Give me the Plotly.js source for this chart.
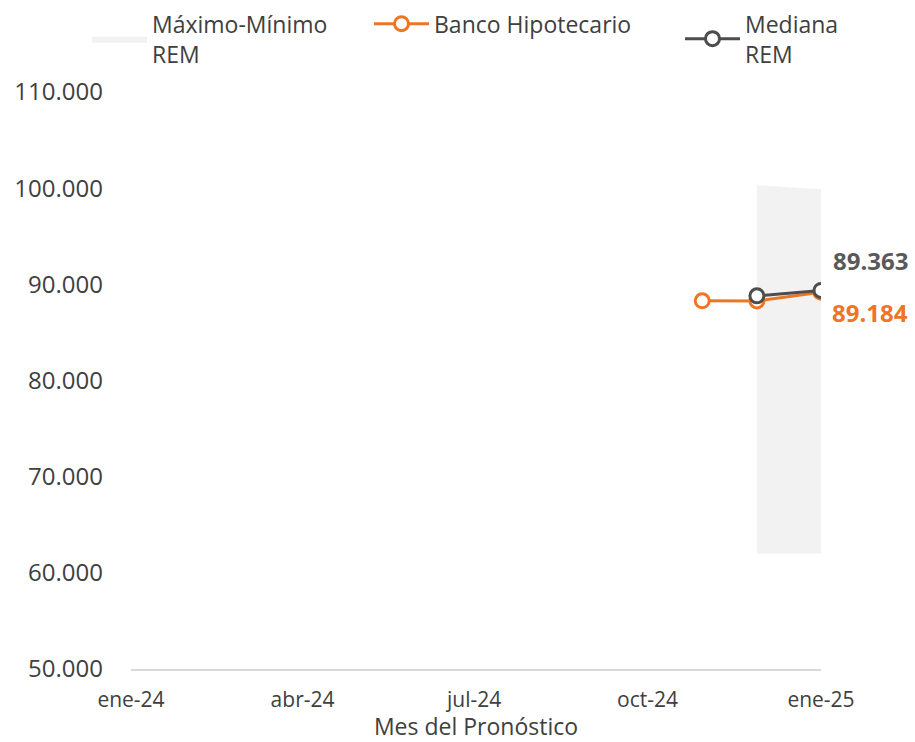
<!DOCTYPE html>
<html>
<head>
<meta charset="utf-8">
<script src="https://cdn.plot.ly/plotly-3.0.1.min.js"></script>
<style>html,body{margin:0;padding:0;background:#fff;}#chart{width:915px;height:742px;}</style>
</head>
<body>
<div id="chart"></div>
<script>
// Band (Máximo-Mínimo REM)
const bandDates = ["2024-11-28", "2025-01-01"];
const bandMax = [100300, 99900];
const bandMin = [62000, 62000];
// Banco Hipotecario
const bancoDates = ["2024-10-30", "2024-11-28", "2025-01-01"];
const bancoValues = [88290, 88270, 89184];
// Mediana REM
const medianaDates = ["2024-11-28", "2025-01-01"];
const medianaValues = [88800, 89363];
// Axis ticks
const xTickVals = ["2024-01-01", "2024-04-01", "2024-07-01", "2024-10-01", "2025-01-01"];
const xTickText = ["ene-24", "abr-24", "jul-24", "oct-24", "ene-25"];
const yTickVals = [50000, 60000, 70000, 80000, 90000, 100000, 110000];

const ORANGE = "#EE7623";
const DARK = "#4D4D4D";
const TXT = "#404040";
const FONT = "Open Sans, Liberation Sans, sans-serif";

const traces = [
  {x: bandDates, y: bandMin, type: "scatter", mode: "lines", fill: "tozeroy",
   fillcolor: "rgba(255,255,255,1)", line: {width: 0, color: "rgba(255,255,255,0)"},
   showlegend: false, hoverinfo: "skip"},
  {x: bandDates, y: bandMax, type: "scatter", mode: "lines", fill: "tonexty",
   fillcolor: "#F2F2F2", line: {width: 0, color: "rgba(0,0,0,0)"},
   name: "Máximo-Mínimo<br>REM", legend: "legend"},
  {x: bancoDates, y: bancoValues, type: "scatter", mode: "lines+markers",
   line: {color: ORANGE, width: 3},
   marker: {symbol: "circle", size: 14, color: "#ffffff", line: {color: ORANGE, width: 3}},
   name: "Banco Hipotecario", legend: "legend2"},
  {x: medianaDates, y: medianaValues, type: "scatter", mode: "lines+markers",
   line: {color: DARK, width: 3},
   marker: {symbol: "circle", size: 14, color: "#ffffff", line: {color: DARK, width: 3}},
   name: "Mediana<br>REM", legend: "legend3"}
];

const fmt = v => v.toLocaleString("de-DE");
const legendBase = {orientation: "h", xref: "container", yref: "container", yanchor: "top",
  xanchor: "left", y: 0.997, font: {family: FONT, size: 23, color: TXT},
  bgcolor: "rgba(0,0,0,0)", itemwidth: 55, tracegroupgap: 0};

const layout = {
  width: 915, height: 742,
  margin: {l: 131, r: 94, t: 92, b: 73},
  paper_bgcolor: "#ffffff", plot_bgcolor: "#ffffff",
  separators: ",.",
  font: {family: FONT, color: TXT},
  showlegend: true,
  legend: Object.assign({}, legendBase, {x: 87 / 915}),
  legend2: Object.assign({}, legendBase, {x: 369 / 915}),
  legend3: Object.assign({}, legendBase, {x: 680 / 915}),
  xaxis: {
    type: "date", range: ["2024-01-01", "2025-01-01"],
    tickvals: xTickVals, ticktext: xTickText,
    showgrid: false, zeroline: false,
    showline: true, linecolor: "#D9D9D9", linewidth: 1.5,
    ticks: "", ticklabelstandoff: 11,
    tickfont: {family: FONT, size: 21, color: TXT},
    title: {text: "Mes del Pronóstico", font: {family: FONT, size: 23, color: TXT}, standoff: 17}
  },
  yaxis: {
    range: [50000, 110000], tickvals: yTickVals, tickformat: ",.0f",
    showgrid: false, zeroline: false, showline: false, ticks: "",
    ticklabelstandoff: 27,
    tickfont: {family: FONT, size: 24, color: TXT}
  },
  annotations: [
    {x: medianaDates[medianaDates.length - 1], y: medianaValues[medianaValues.length - 1],
     xref: "x", yref: "y", text: "<b>" + fmt(medianaValues[medianaValues.length - 1]) + "</b>",
     showarrow: false, xanchor: "left", yanchor: "middle", xshift: 10, yshift: 30,
     font: {family: FONT, size: 24, color: "#595959"}},
    {x: bancoDates[bancoDates.length - 1], y: bancoValues[bancoValues.length - 1],
     xref: "x", yref: "y", text: "<b>" + fmt(bancoValues[bancoValues.length - 1]) + "</b>",
     showarrow: false, xanchor: "left", yanchor: "middle", xshift: 9, yshift: -20,
     font: {family: FONT, size: 24, color: ORANGE}}
  ]
};

Plotly.newPlot("chart", traces, layout, {displayModeBar: false, staticPlot: true});
</script>
</body>
</html>
